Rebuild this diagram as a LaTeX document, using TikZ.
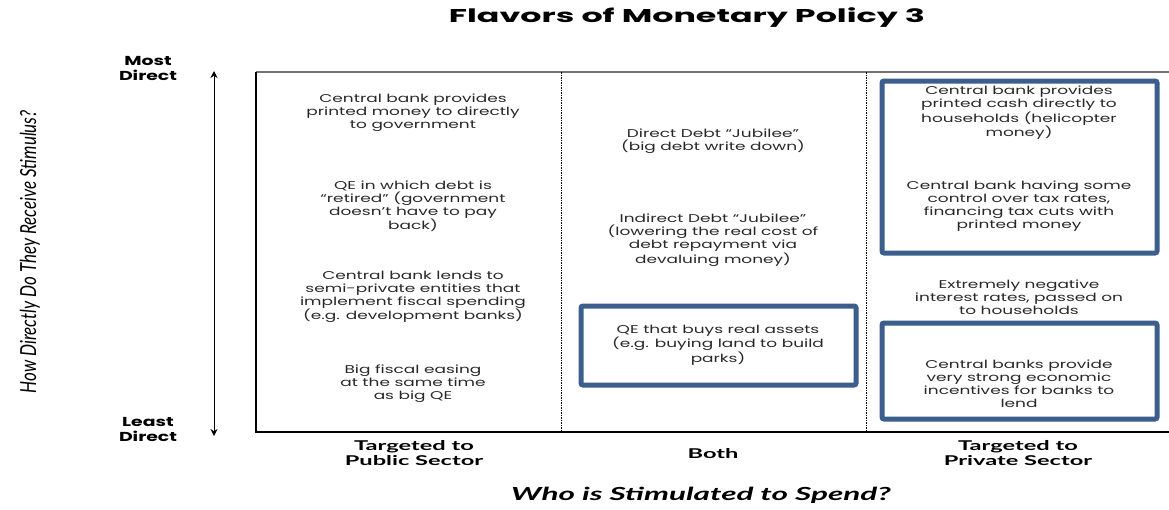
\documentclass[tikz,border=0pt]{standalone}
\usepackage{fontspec}
\usetikzlibrary{arrows.meta}
\newfontfamily\bodyf[FakeStretch=1.5]{Poppins}
\newfontfamily\titlef[FakeStretch=1.8]{Poppins}
\newfontfamily\axisf[FakeStretch=1.45]{Poppins}
\newfontfamily\latof[FakeStretch=1.75]{Lato}
\newfontfamily\ylabf{Lato}
\definecolor{boxblue}{RGB}{59,94,140}
\definecolor{txt}{RGB}{40,40,40}
\tikzset{
  body/.style={align=center, text=txt, inner sep=0pt, font=\bodyf\fontsize{11.3}{13}\selectfont},
  bluebox/.style={draw=boxblue, line width=5pt, rounded corners=2pt},
  axislab/.style={align=center, inner sep=0pt, font=\axisf\bfseries\fontsize{13}{15}\selectfont},
  catlab/.style={align=center, inner sep=0pt, font=\latof\bfseries\fontsize{13.5}{15}\selectfont},
  divider/.style={line width=0.9pt, dash pattern=on 1.5pt off 1pt},
}
\begin{document}
\begin{tikzpicture}[x=1pt,y=-1pt]
\useasboundingbox (0,0) rectangle (1169,509);
% frame
\coordinate (tl) at (256,72);
\coordinate (tr) at (1169,72);
\coordinate (bl) at (256,432);
\coordinate (br) at (1169,432);
\coordinate (d1t) at (561,72);
\coordinate (d1b) at (561,432);
\coordinate (d2t) at (866,72);
\coordinate (d2b) at (866,432);
\draw[line width=2pt, black!55] (tl) -- (tr);
\draw[line width=1.4pt] (tl) -- (bl) -- (br);
\draw[divider] (d1t) -- (d1b);
\draw[divider] (d2t) -- (d2b);
% title
\node[font=\titlef\bfseries\fontsize{18.5}{20}\selectfont, inner sep=0pt] (title) at (687,18) {Flavors of Monetary Policy 3};
% vertical axis
\coordinate (atop) at (214,71);
\coordinate (abot) at (214,436);
\draw[line width=1pt, {Stealth[length=7pt,width=7pt]}-{Stealth[length=7pt,width=7pt]}] (abot) -- (atop);
\node[axislab] (most) at (148,68) {Most\\Direct};
\node[axislab] (least) at (148,429) {Least\\Direct};
\node[rotate=90, inner sep=0pt] (ylab) at (30,252) {\scalebox{1}[1.3]{\ylabf\itshape\fontsize{17}{19}\selectfont How Directly Do They Receive Stimulus?}};
% blue boxes
\draw[bluebox] (882,81) rectangle (1157,253);
\draw[bluebox] (882,323) rectangle (1157,419);
\draw[bluebox] (581,306) rectangle (856,385);
% column 1
\node[body] (c1a) at (413,113) {Central bank provides\\printed money to directly\\to government};
\node[body] (c1b) at (413,206) {QE in which debt is\\“retired” (government\\doesn’t have to pay\\back)};
\node[body] (c1c) at (413,297) {Central bank lends to\\semi-private entities that\\implement fiscal spending\\(e.g. development banks)};
\node[body] (c1d) at (413,384) {Big fiscal easing\\at the same time\\as big QE};
% column 2
\node[body] (c2a) at (713,141) {Direct Debt “Jubilee”\\(big debt write down)};
\node[body] (c2b) at (713,240) {Indirect Debt “Jubilee”\\(lowering the real cost of\\debt repayment via\\devaluing money)};
\node[body] (c2c) at (718,345) {QE that buys real assets\\(e.g. buying land to build\\parks)};
% column 3
\node[body] (c3a) at (1019,113) {Central bank provides\\printed cash directly to\\households (helicopter\\money)};
\node[body] (c3b) at (1019,206) {Central bank having some\\control over tax rates,\\financing tax cuts with\\printed money};
\node[body] (c3c) at (1019,297) {Extremely negative\\interest rates, passed on\\to households};
\node[body] (c3d) at (1019,384) {Central banks provide\\very strong economic\\incentives for banks to\\lend};
% category labels
\node[catlab] (pub) at (414,453) {Targeted to\\Public Sector};
\node[catlab] (both) at (713,454) {Both};
\node[catlab] (priv) at (1018,453) {Targeted to\\Private Sector};
\node[inner sep=0pt, font=\latof\bfseries\itshape\fontsize{18}{20}\selectfont] (xlab) at (701,495) {Who is Stimulated to Spend?};
\end{tikzpicture}
\end{document}
